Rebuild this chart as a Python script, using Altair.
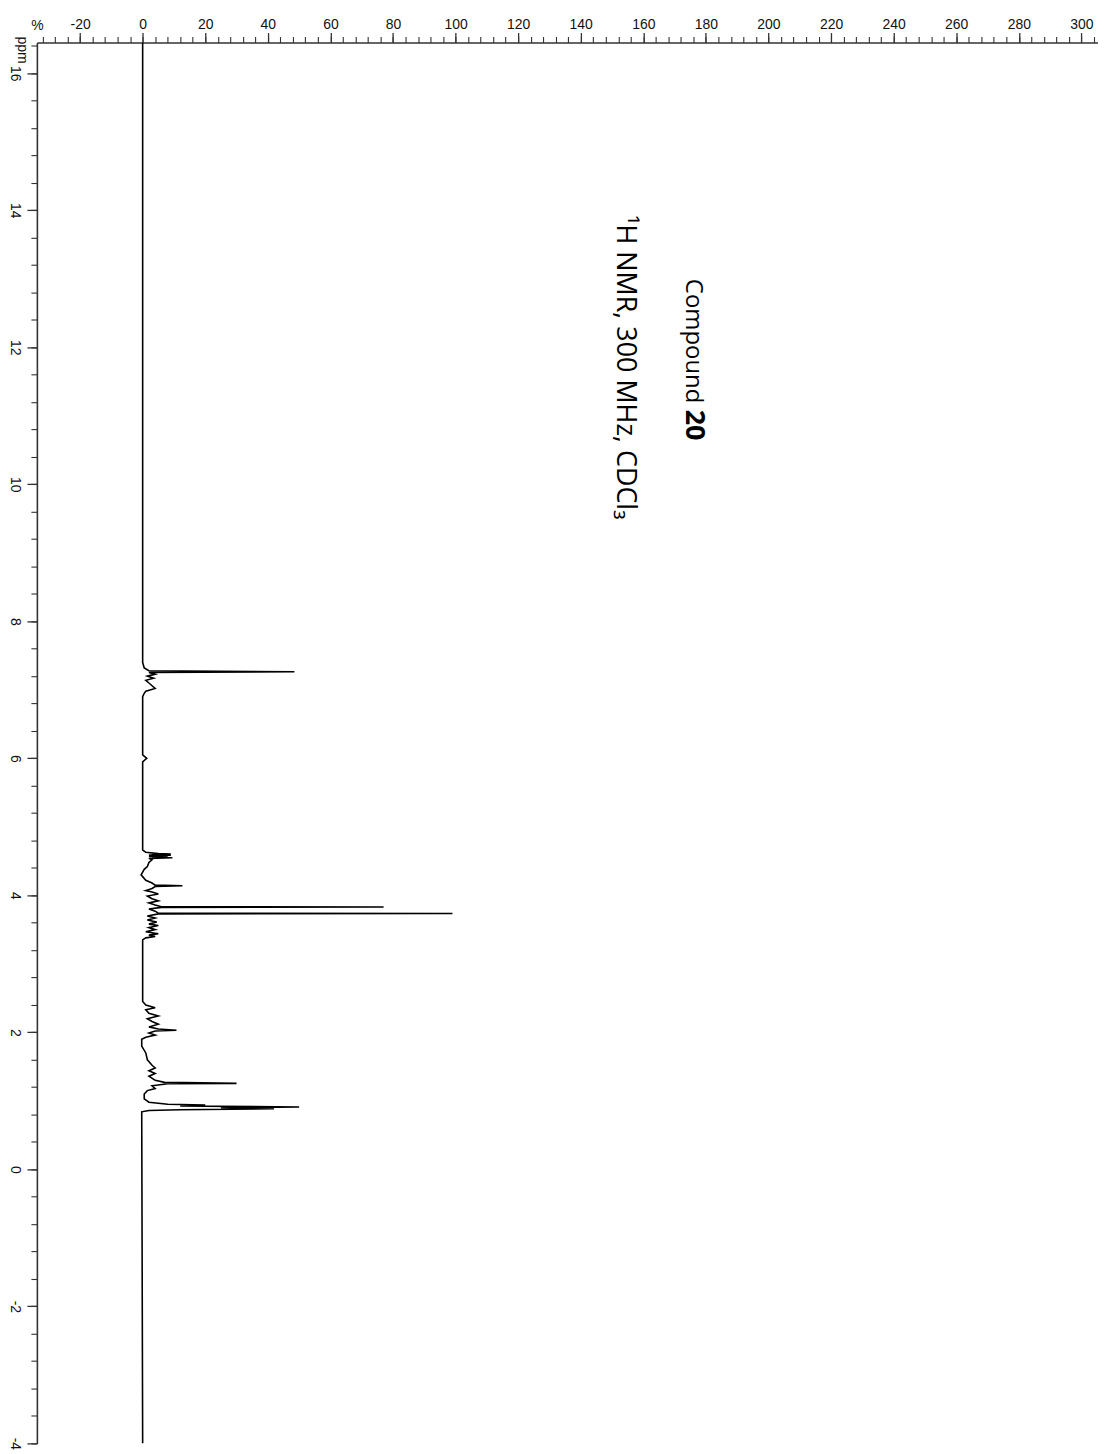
import altair as alt
import pandas as pd

# Spectrum trace: chemical shift (ppm) and intensity (%)
PPM = [16.45, 7.40, 7.32, 7.28, 7.265, 7.255, 7.23, 7.20, 7.17, 7.14, 7.10, 7.06, 7.02, 6.98, 6.95, 6.90,
       6.05, 6.00, 5.95,
       4.66, 4.63, 4.61, 4.605, 4.60, 4.595, 4.59, 4.585, 4.58, 4.575, 4.57, 4.565, 4.56, 4.55, 4.54, 4.52,
       4.48, 4.42, 4.38, 4.30, 4.22, 4.18, 4.15, 4.14, 4.13, 4.10, 4.07, 4.05, 4.02, 3.99, 3.95, 3.92,
       3.89, 3.86, 3.835, 3.83, 3.825, 3.80, 3.77, 3.74, 3.735, 3.73, 3.70, 3.67, 3.64, 3.61, 3.58, 3.56,
       3.53, 3.50, 3.47, 3.44, 3.42, 3.40, 3.38, 3.35,
       2.45, 2.40, 2.36, 2.33, 2.28, 2.24, 2.20, 2.16, 2.12, 2.08, 2.05, 2.03, 2.02, 1.99, 1.96, 1.93, 1.90,
       1.80, 1.70, 1.60, 1.52, 1.48, 1.44, 1.40, 1.36, 1.30, 1.27, 1.255, 1.25, 1.22, 1.18, 1.15, 1.10,
       1.03, 0.98, 0.95, 0.94, 0.925, 0.91, 0.90, 0.885, 0.87, 0.86, 0.84, -4.0]
INTENSITY = [0, 0, 0.5, 2, 48.5, 2, 4, 1.5, 3.5, 1, 2, 3, 4, 1, 0.5, 0,
             0, 1.3, 0,
             0, 1, 5, 9, 3, 8.5, 2, 9, 3, 8, 2, 8, 3, 9.5, 2, 3,
             2, 1.5, 0.5, -0.5, 1, 3, 4, 12.7, 4, 3, 1, 3, 5, 1.5, 3, 5,
             2, 4, 6, 77, 6, 2, 4, 5, 99, 5, 1.5, 4, 1.5, 4.5, 2, 5,
             2, 4, 1, 5, 2, 4, 1, 0,
             0, 1, 4, 1, 2, 5, 1.5, 3, 5, 2, 5, 10.8, 4, 2, 4, 1, -0.3,
             -0.3, 1, 1.5, 3, 4, 2, 4, 2, 4, 7, 30, 8, 3, 4, 1.5, 0.5,
             0.5, 2, 8, 20, 12, 50, 25, 42, 12, 2, -0.3, 0]

X_MAJOR = list(range(-20, 301, 20))
X_MINOR = list(range(-32, 305, 4))
Y_MAJOR = list(range(-4, 17, 2))
Y_MINOR = [round(-4 + 0.4 * i, 1) for i in range(52)]

# annotation texts (placed in data coordinates)
TITLE_TXT = ["Compound"]
TITLE_X = [173.5]
TITLE_Y = [13.0]
BOLD_TXT = ["20"]
BOLD_X = [173.5]
BOLD_Y = [11.09]
SUB_TXT = ["\u00b9H NMR, 300 MHz, CDCl\u2083"]
SUB_X = [151.6]
SUB_Y = [13.93]

spec = pd.DataFrame({"ppm": PPM, "intensity": INTENSITY})
notes_t = pd.DataFrame({"ppm": TITLE_Y, "intensity": TITLE_X, "label": TITLE_TXT})
notes_b = pd.DataFrame({"ppm": BOLD_Y, "intensity": BOLD_X, "label": BOLD_TXT})
notes_s = pd.DataFrame({"ppm": SUB_Y, "intensity": SUB_X, "label": SUB_TXT})

xscale = alt.Scale(domain=[-33.8, 305.3], nice=False, zero=False)
yscale = alt.Scale(domain=[-4.0, 16.45], nice=False, zero=False)

AX = dict(labelFont="Liberation Sans", titleFont="Liberation Sans", domainColor="#333333",
          tickColor="#333333", labelColor="#111111", titleColor="#111111", grid=False,
          labelExpr="toString(datum.value)")

x_major = alt.Axis(orient="top", values=X_MAJOR, tickSize=10, tickWidth=1.3, domainWidth=1.6,
                   labelFontSize=14, labelPadding=1, labelAngle=0, title="%", titleFontSize=14,
                   titleFontWeight="normal", titleX=0, titleY=-17, titleAlign="center",
                   titleBaseline="middle", labelFlush=False, **AX)
y_major = alt.Axis(orient="left", values=Y_MAJOR, tickSize=10, tickWidth=1.3, domainWidth=1.6,
                   labelFontSize=14, labelPadding=5, labelAngle=90, labelAlign="center",
                   labelBaseline="top", title="ppm", titleFontSize=14, titleFontWeight="normal",
                   titleAngle=90, titleX=-15, titleY=7, titleAlign="center", titleBaseline="middle",
                   labelFlush=False, **AX)
x_minor = alt.Axis(orient="top", values=X_MINOR, tickSize=6, tickWidth=1.1, labels=False,
                   domain=False, title=None, grid=False, tickColor="#333333")
y_minor = alt.Axis(orient="left", values=Y_MINOR, tickSize=6, tickWidth=1.1, labels=False,
                   domain=False, title=None, grid=False, tickColor="#333333")

minor = alt.Chart(spec).mark_line(opacity=0).encode(
    x=alt.X("intensity:Q", scale=xscale, axis=x_minor),
    y=alt.Y("ppm:Q", scale=yscale, axis=y_minor),
    order=alt.Order("ppm:Q", sort="descending"),
)

line = alt.Chart(spec).mark_line(color="black", strokeWidth=1.6, clip=True).encode(
    x=alt.X("intensity:Q", scale=xscale, axis=x_major),
    y=alt.Y("ppm:Q", scale=yscale, axis=y_major),
    order=alt.Order("ppm:Q", sort="descending"),
)


def note(df, size, weight="normal"):
    return alt.Chart(df).mark_text(angle=90, align="left", baseline="alphabetic",
                                   font="Open Sans", fontSize=size, fontWeight=weight,
                                   color="black").encode(
        x=alt.X("intensity:Q", axis=None),
        y=alt.Y("ppm:Q", axis=None),
        text="label:N",
    )


text_t = note(notes_t, 24)
text_b = note(notes_b, 27, "bold")
text_s = note(notes_s, 27)

chart = alt.layer(minor, line, text_t, text_b, text_s).resolve_axis(
    x="independent", y="independent"
).properties(
    width=1065, height=1406,
    autosize=alt.AutoSizeParams(type="none"),
    padding={"left": 29, "top": 32, "right": 0, "bottom": 7},
).configure_view(stroke=None)

chart.save("out.html", embed_options={"renderer": "svg", "actions": False})
